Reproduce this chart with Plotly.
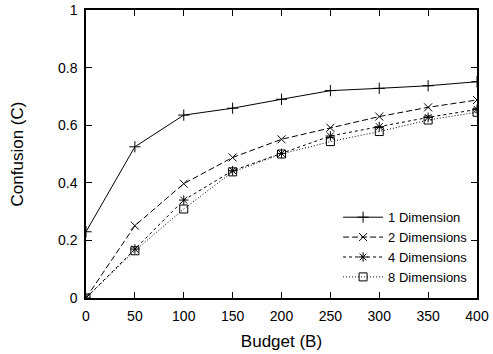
import plotly.graph_objects as go

budget = [0, 50, 100, 150, 200, 250, 300, 350, 400]
dim1 = [0.23, 0.525, 0.635, 0.659, 0.69, 0.72, 0.728, 0.737, 0.751]
dim2 = [0.0, 0.251, 0.397, 0.488, 0.551, 0.591, 0.63, 0.662, 0.6875]
dim4 = [0.0, 0.17, 0.34, 0.442, 0.502, 0.5625, 0.595, 0.627, 0.655]
dim8 = [0.0, 0.164, 0.309, 0.438, 0.5, 0.543, 0.578, 0.618, 0.645]

series = [
    ("1 Dimension", dim1, "solid", "cross-thin-open"),
    ("2 Dimensions", dim2, "6px,3px", "x-thin-open"),
    ("4 Dimensions", dim4, "3px,3px", "asterisk-open"),
    ("8 Dimensions", dim8, "1px,2px", "square-open"),
]

fig = go.Figure()
for name, ys, dash, sym in series:
    fig.add_trace(go.Scatter(
        x=budget, y=ys, name=name, mode="lines+markers",
        line=dict(color="black", width=1, dash=dash),
        marker=dict(symbol=sym, size=8, color="black", line=dict(color="black", width=1)),
    ))

font = dict(family="Liberation Sans, Arial, sans-serif", size=14, color="black")
fig.update_layout(
    width=493, height=354,
    margin=dict(l=86, r=16, t=10, b=56),
    paper_bgcolor="white", plot_bgcolor="white",
    font=font,
    showlegend=True,
    legend=dict(x=0.99, y=0.02, xanchor="right", yanchor="bottom",
                bgcolor="rgba(0,0,0,0)", font=dict(family=font["family"], size=13, color="black"),
                tracegroupgap=0, itemwidth=40),
)
fig.update_xaxes(
    range=[0, 400], tickvals=budget, ticks="inside", ticklen=6, tickcolor="black",
    showline=True, linecolor="black", linewidth=1.5, mirror="ticks",
    showgrid=False, zeroline=False, automargin=False,
    title=dict(text="Budget (B)", standoff=13), ticklabelstandoff=4,
)
fig.update_yaxes(
    range=[0, 1], tickvals=[0, 0.2, 0.4, 0.6, 0.8, 1], ticktext=["0", "0.2", "0.4", "0.6", "0.8", "1"],
    ticks="inside", ticklen=6, tickcolor="black",
    showline=True, linecolor="black", linewidth=1.5, mirror="ticks",
    showgrid=False, zeroline=False, automargin=False,
    title=dict(text="Confusion (C)", standoff=30), ticklabelstandoff=4,
)
fig.write_html("out.html", config={"displayModeBar": False},
               post_script="document.body.style.margin='0px';")
